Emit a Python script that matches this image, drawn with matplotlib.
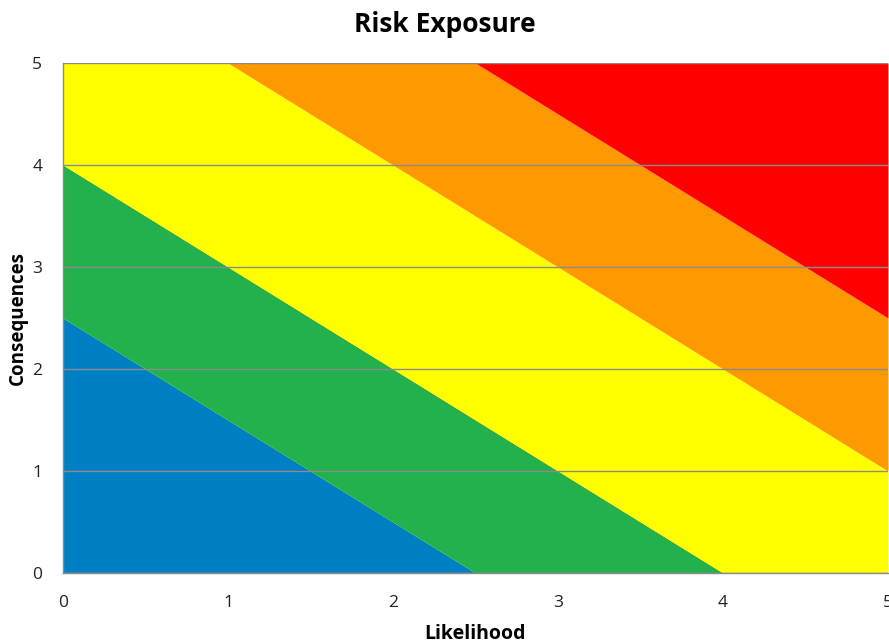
import matplotlib
matplotlib.use("Agg")
import matplotlib.pyplot as plt

plt.rcParams['font.family'] = ['Open Sans', 'DejaVu Sans']

# Likelihood sample points
x = [0, 0.5, 1, 1.5, 2, 2.5, 3, 3.5, 4, 4.5, 5]
# Upper boundary of each risk band (cumulative)
blue_top   = [2.5, 2.0, 1.5, 1.0, 0.5, 0.0, 0.0, 0.0, 0.0, 0.0, 0.0]
green_top  = [4.0, 3.5, 3.0, 2.5, 2.0, 1.5, 1.0, 0.5, 0.0, 0.0, 0.0]
yellow_top = [5.0, 5.0, 5.0, 4.5, 4.0, 3.5, 3.0, 2.5, 2.0, 1.5, 1.0]
orange_top = [5.0, 5.0, 5.0, 5.0, 5.0, 5.0, 4.5, 4.0, 3.5, 3.0, 2.5]
red_top    = [5.0, 5.0, 5.0, 5.0, 5.0, 5.0, 5.0, 5.0, 5.0, 5.0, 5.0]
bottom     = [0.0] * len(x)

x_ticks = [0, 1, 2, 3, 4, 5]
y_ticks = [0, 1, 2, 3, 4, 5]

colors = ['#0080C4', '#22B14C', '#FFFF00', '#FF9900', '#FF0000']

fig = plt.figure(figsize=(8.89, 6.44), dpi=100)
ax = fig.add_axes([63/889, 1-573/644, (888-63)/889, (573-63)/644])

layers = [bottom, blue_top, green_top, yellow_top, orange_top, red_top]
for i, c in enumerate(colors):
    ax.fill_between(x, layers[i], layers[i+1], color=c, linewidth=0, zorder=1)

ax.set_xlim(0, 5)
ax.set_ylim(0, 5)
ax.set_xticks(x_ticks)
ax.set_yticks(y_ticks)
ax.set_xticklabels([str(t) for t in x_ticks])
ax.set_yticklabels([str(t) for t in y_ticks])
ax.yaxis.grid(True, color='#8C8C8C', linewidth=1.0, zorder=2)
ax.set_axisbelow(False)
ax.tick_params(length=0, labelsize=12.5, colors='#222222')
ax.tick_params(axis='y', pad=15)
ax.tick_params(axis='x', pad=16)
for s in ['top', 'right']:
    ax.spines[s].set_visible(False)
for s in ['left', 'bottom']:
    ax.spines[s].set_color('#8C8C8C')
    ax.spines[s].set_linewidth(1.0)

ax.set_xlabel('Likelihood', fontsize=14, fontweight='bold', labelpad=9)
ax.set_ylabel('Consequences', fontsize=13.5, fontweight='bold', labelpad=3)
fig.text(0.5, 1 - 24 / 644, 'Risk Exposure', fontsize=19,
         fontweight='bold', ha='center', va='center')

fig.savefig('out.png', dpi=100)
